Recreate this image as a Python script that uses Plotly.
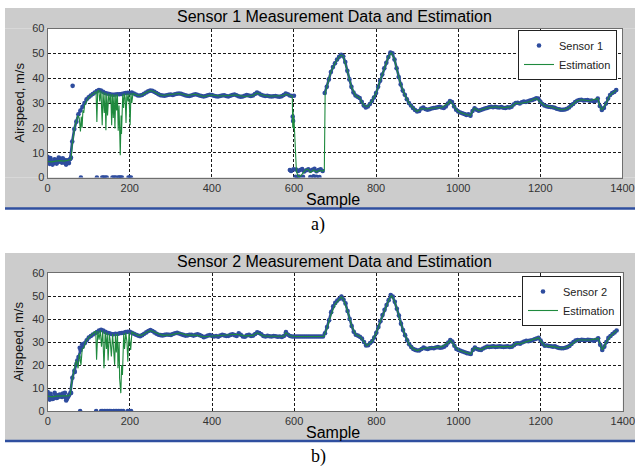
import plotly.graph_objects as go

# ---------------- data ----------------
STEP = 5
S1 = [
 8.3, 5.5, 6.4, 5.8, 7.0, 6.2, 7.6, 6.0, 7.1, 5.2, 6.8, 7.4, 14.5, 19.5, 22.5, 25.5, 27.0, 28.5, 30.0, 31.5,
 32.3, 33.0, 33.6, 34.2, 34.8, 35.2, 35.0, 34.5, 34.0, 33.8, 33.6, 33.4, 33.3, 33.4, 33.5, 33.5, 33.6, 33.8, 34.0, 34.1,
 34.0, 34.2, 33.8, 33.4, 33.0, 33.0, 33.2, 33.7, 34.2, 34.7, 35.0, 34.9, 34.5, 34.0, 33.5, 33.1, 33.0, 32.9, 33.1, 33.3,
 33.4, 33.2, 33.5, 33.7, 33.8, 33.7, 33.4, 33.1, 32.9, 32.8, 33.0, 33.3, 33.5, 33.3, 33.0, 32.8, 32.6, 32.8, 33.1, 33.3,
 33.2, 32.9, 32.7, 32.6, 32.8, 33.0, 33.1, 32.8, 32.6, 32.9, 33.2, 33.4, 33.1, 32.7, 32.5, 32.6, 32.9, 33.2, 33.0, 32.8,
 33.0, 33.6, 34.2, 33.8, 33.3, 33.0, 32.8, 32.9, 32.7, 32.6, 32.7, 32.8, 32.6, 32.5, 32.7, 33.2, 33.8, 33.5, 33.0, 32.8,
 32.9, 3.2, 2.6, 3.0, 3.4, 2.4, 2.9, 3.3, 2.7, 3.1, 3.5, 2.5, 3.0, 3.3, 2.6, 34.0, 36.5, 39.5, 42.5, 44.5,
 46.0, 47.5, 48.6, 49.4, 48.8, 46.5, 43.0, 39.5, 36.5, 34.2, 33.0, 32.5, 32.0, 30.5, 29.0, 28.2, 28.6, 29.6, 30.8, 32.2,
 34.0, 36.5, 39.0, 41.5, 44.0, 46.2, 48.5, 50.3, 50.0, 47.5, 44.0, 40.5, 37.5, 35.0, 33.3, 31.5, 30.0, 29.0, 28.0, 27.2,
 26.6, 26.8, 27.8, 28.2, 27.6, 27.3, 27.5, 27.8, 28.0, 28.1, 28.3, 28.5, 28.2, 28.0, 28.6, 29.8, 30.8, 30.4, 28.6, 27.3,
 26.6, 26.2, 25.9, 25.6, 25.2, 25.4, 24.9, 26.8, 27.9, 27.3, 26.9, 27.2, 27.5, 27.8, 28.0, 28.3, 28.5, 28.3, 28.5, 28.3,
 28.2, 28.4, 28.1, 28.0, 28.3, 28.2, 28.5, 29.4, 30.0, 30.1, 29.8, 30.3, 30.6, 30.4, 30.7, 31.0, 31.2, 31.5, 31.9, 31.8,
 30.6, 29.6, 29.0, 28.7, 28.5, 28.4, 28.3, 28.1, 27.7, 27.5, 27.3, 27.3, 27.4, 27.7, 28.2, 29.0, 29.6, 30.4, 30.9, 31.2,
 31.3, 31.0, 31.1, 31.2, 30.9, 31.0, 30.7, 30.9, 31.8, 28.8, 27.2, 28.0, 29.8, 31.8, 33.2, 34.0, 34.4, 35.2,
]
# sample numbers where sensor 1 jumps between separate regimes (start of a new run)
S1_RUN_STARTS = [605, 675]
# extra readings of sensor 1 (noise, outlier, drop-outs to zero, low band)
S1_EXTRA = [
 (2, 6.0), (7, 7.8), (12, 5.2), (17, 7.3), (22, 5.6), (27, 8.0), (32, 6.3), (37, 7.7), (42, 5.9),
 (47, 6.9), (52, 5.8), (57, 8.0), (61, 36.9),
 (81, 0), (120, 0), (133, 0), (136, 0), (140, 0), (144, 0), (158, 0), (162, 0), (166, 0),
 (172, 0), (175, 0), (178, 0), (181, 0), (197, 0), (200, 0), (203, 0),
 (590, 3.0), (593, 2.6), (597, 24.5), (598, 22.8), (599, 3.3),
 (604, 0.3), (608, 0.2), (612, 0.4), (622, 0.3), (640, 0.2), (648, 0.5), (655, 0.3), (662, 0.2),
]
EST1 = [
 (0, 6.5), (10, 6.3), (20, 6.6), (30, 6.8), (40, 6.6), (50, 6.8), (57, 7.2), (60, 13.0), (63, 18.0), (66, 20.5),
 (70, 22.5), (74, 25.0), (77, 24.0), (80, 18.5), (82, 24.5), (84, 20.0), (86, 27.0), (88, 26.0), (90, 29.0), (95, 31.0),
 (100, 32.3), (110, 33.6), (118, 34.6), (120, 22.4), (122, 34.8), (125, 35.0), (127, 30.6), (130, 35.0), (133, 21.0),
 (135, 34.5), (138, 26.0), (140, 34.2), (142, 19.0), (144, 33.8), (146, 25.0), (149, 33.8), (152, 30.0), (154, 33.6),
 (156, 21.0), (158, 33.5), (160, 24.0), (162, 33.4), (164, 19.7), (166, 33.4), (168, 27.0), (170, 33.5), (172, 18.8),
 (174, 29.0), (177, 9.0), (179, 25.0), (180, 17.5), (183, 33.5), (185, 28.0), (187, 33.8), (189, 32.0), (191, 22.0),
 (193, 33.8), (196, 30.6), (198, 33.8), (201, 21.0), (203, 34.0), (205, 30.0), (208, 33.8),
 (220, 33.0), (230, 33.2), (240, 34.2), (250, 35.0), (260, 34.5), (270, 33.5), (280, 33.0), (300, 33.4),
 (320, 33.8), (340, 33.0), (360, 33.5), (380, 32.6), (400, 33.2), (420, 32.8), (440, 32.9), (460, 33.2),
 (480, 32.6), (500, 33.0), (510, 34.0), (520, 33.3), (540, 32.7), (560, 32.7), (575, 33.0), (580, 33.6),
 (590, 33.0), (596, 32.8), (597, 20.0), (598, 27.0), (599, 19.5), (600, 24.0), (606, 2.5), (610, 0.5),
 (614, 0.2), (620, 1.5), (628, 3.0), (634, 3.4), (640, 2.0), (648, 3.0), (655, 2.2), (662, 3.0), (670, 2.5),
 (674, 3.0), (676, 33.8), (680, 36.5), (690, 42.5), (700, 46.0), (710, 48.6), (715, 49.3), (720, 48.8),
 (730, 43.0), (740, 36.5), (750, 33.0), (760, 32.0), (770, 29.0), (780, 28.6), (790, 30.8), (800, 34.0),
 (810, 39.0), (820, 44.0), (830, 48.5), (837, 50.2), (845, 47.5), (850, 44.0), (860, 37.5), (870, 33.3),
 (880, 30.0), (890, 28.0), (900, 26.6), (910, 27.8), (920, 27.6), (940, 28.0), (960, 28.2), (975, 29.8),
 (980, 30.8), (990, 28.6), (1000, 26.6), (1010, 25.9), (1030, 24.9), (1035, 26.8), (1040, 27.9), (1050, 26.9),
 (1070, 28.0), (1090, 28.5), (1110, 28.1), (1130, 28.5), (1140, 30.0), (1150, 29.8), (1170, 30.4), (1190, 31.9),
 (1200, 30.6), (1210, 29.0), (1230, 28.3), (1250, 27.3), (1260, 27.4), (1270, 28.2), (1290, 30.9), (1300, 31.3),
 (1320, 30.9), (1340, 31.8), (1345, 28.8), (1350, 27.2), (1360, 29.8), (1370, 33.2), (1385, 35.2),
]

S2 = [
 8.3, 5.0, 6.3, 5.6, 6.9, 6.0, 7.2, 6.1, 6.6, 4.6, 6.2, 7.8, 14.5, 17.5, 20.5, 23.5, 26.5, 28.0, 29.5, 30.8,
 32.0, 32.6, 33.3, 33.8, 34.3, 35.0, 35.3, 35.0, 34.4, 34.0, 33.8, 33.5, 33.4, 33.6, 33.5, 33.8, 33.9, 34.0, 34.3, 34.5,
 34.4, 34.0, 33.6, 33.2, 32.8, 32.5, 33.0, 33.6, 34.2, 34.8, 35.2, 34.8, 34.2, 33.6, 33.2, 33.0, 32.9, 33.1, 33.3, 33.2,
 33.1, 33.5, 33.8, 34.0, 33.7, 33.4, 33.1, 32.8, 32.9, 33.2, 33.1, 32.8, 33.1, 33.4, 33.0, 32.6, 32.1, 32.4, 32.8, 33.0,
 32.7, 32.4, 32.6, 32.3, 32.8, 33.2, 32.9, 32.6, 32.7, 33.1, 33.4, 33.0, 32.6, 33.8, 33.2, 32.4, 32.3, 32.9, 33.1, 32.6,
 32.8, 33.5, 34.2, 33.9, 33.4, 32.6, 32.4, 32.7, 32.5, 32.4, 32.6, 32.5, 32.3, 32.4, 32.2, 32.6, 34.3, 33.2, 32.6, 32.4,
 32.4, 32.4, 32.4, 32.4, 32.4, 32.4, 32.4, 32.4, 32.4, 32.4, 32.4, 32.4, 32.4, 32.4, 32.4, 33.8, 36.5, 39.5, 43.0, 45.5,
 47.0, 48.0, 48.8, 49.8, 48.5, 46.8, 43.5, 40.0, 37.0, 34.5, 33.2, 32.8, 32.3, 31.5, 30.0, 28.5, 28.6, 29.6, 30.4, 32.0,
 34.0, 36.5, 39.0, 41.7, 44.0, 46.1, 48.2, 50.4, 49.8, 47.5, 44.5, 41.5, 38.0, 35.2, 33.0, 30.8, 29.0, 27.8, 27.0, 26.6,
 26.3, 26.4, 27.0, 27.6, 27.2, 27.0, 27.3, 27.4, 27.3, 27.6, 27.8, 27.5, 27.6, 28.0, 28.6, 29.8, 30.9, 30.2, 28.4, 27.0,
 26.6, 26.2, 25.9, 25.6, 25.2, 25.0, 24.8, 26.6, 27.6, 27.0, 26.7, 26.6, 27.2, 27.6, 28.0, 27.9, 28.0, 28.1, 27.9, 28.0,
 28.1, 28.0, 27.9, 28.0, 28.1, 27.9, 28.0, 28.6, 29.3, 29.5, 29.3, 29.8, 30.2, 30.5, 30.4, 30.6, 30.8, 31.2, 31.5, 31.9,
 30.6, 29.2, 28.4, 28.5, 28.3, 28.2, 28.0, 28.1, 27.7, 27.4, 27.3, 27.3, 27.5, 27.8, 28.3, 29.2, 30.0, 30.6, 30.9, 30.8,
 31.0, 30.9, 30.8, 31.0, 30.9, 30.8, 30.6, 31.0, 31.6, 28.8, 26.6, 28.0, 30.0, 31.8, 32.6, 33.5, 34.2, 35.0,
]
S2_RUN_STARTS = []
S2_EXTRA = [
 (2, 5.8), (7, 7.5), (12, 5.3), (17, 7.9), (22, 5.7), (27, 7.0), (32, 6.4), (37, 7.6), (42, 8.0),
 (47, 5.4), (52, 7.0), (57, 7.9), (66, 17.0), (72, 22.0), (78, 27.5), (84, 29.0),
 (79, 0), (118, 0), (130, 0), (134, 0), (138, 0), (142, 0), (146, 0), (150, 0), (154, 0), (160, 0),
 (164, 0), (168, 0), (172, 0), (176, 0), (180, 0), (184, 0), (195, 0), (199, 0), (203, 0),
]
EST2 = [
 (0, 6.5), (10, 6.2), (20, 6.5), (30, 6.7), (40, 6.6), (50, 6.6), (55, 7.2), (58, 12.0), (62, 16.5), (66, 19.5),
 (70, 22.0), (74, 18.6), (77, 25.0), (81, 20.1), (84, 27.0), (88, 27.5), (92, 30.0), (100, 32.0), (110, 33.6),
 (117, 34.8), (119, 22.3), (122, 34.8), (125, 31.0), (128, 35.2), (131, 28.0), (134, 35.0), (137, 18.6),
 (140, 34.5), (143, 27.0), (145, 34.0), (147, 22.0), (150, 33.5), (152, 31.0), (155, 23.7), (158, 33.5),
 (160, 27.0), (163, 20.1), (165, 33.5), (167, 25.5), (170, 33.6), (171, 18.6), (174, 30.0), (175, 14.3),
 (178, 7.8), (180, 20.0), (182, 15.7), (185, 33.7), (187, 27.0), (190, 34.0), (193, 30.0), (195, 21.5),
 (198, 34.0), (200, 30.0), (202, 26.6), (205, 34.3),
 (220, 32.9), (230, 33.0), (240, 34.2), (250, 35.0), (260, 34.2), (270, 33.4), (280, 32.9), (300, 33.1),
 (320, 33.9), (340, 33.0), (360, 33.0), (380, 32.3), (400, 32.6), (420, 32.6), (440, 33.0), (460, 33.4),
 (480, 32.7), (500, 32.9), (510, 34.0), (525, 32.7), (540, 32.5), (560, 32.5), (575, 32.5), (580, 34.0),
 (590, 32.7), (600, 32.4), (672, 32.4), (680, 36.0), (690, 42.0), (700, 46.5), (710, 48.4), (715, 49.6),
 (720, 48.5), (730, 43.5), (740, 37.0), (750, 33.2), (760, 32.4), (770, 30.0), (777, 28.4), (790, 30.4),
 (800, 34.0), (810, 39.0), (820, 44.0), (830, 48.2), (837, 50.2), (845, 47.5), (850, 44.5), (860, 38.0),
 (870, 33.0), (880, 29.0), (890, 27.0), (900, 26.3), (910, 27.0), (920, 27.4), (940, 27.6), (960, 28.0),
 (975, 29.8), (980, 30.8), (990, 28.4), (1000, 26.6), (1010, 25.9), (1030, 24.8), (1035, 26.6), (1040, 27.6),
 (1055, 26.6), (1070, 28.0), (1090, 28.0), (1110, 28.0), (1130, 28.0), (1140, 29.3), (1150, 29.3), (1170, 30.4),
 (1195, 31.9), (1200, 30.6), (1210, 28.4), (1230, 28.0), (1250, 27.3), (1260, 27.5), (1270, 28.3), (1290, 30.9),
 (1300, 31.0), (1320, 30.9), (1340, 31.6), (1345, 28.8), (1350, 26.6), (1360, 30.0), (1370, 32.6), (1385, 35.0),
]

X_TICKS = [0, 200, 400, 600, 800, 1000, 1200, 1400]
Y_TICKS = [0, 10, 20, 30, 40, 50, 60]
TITLES = ["Sensor 1 Measurement Data and Estimation", "Sensor 2 Measurement Data and Estimation"]
SENSOR_NAMES = ["Sensor 1", "Sensor 2"]
CAPTIONS = ["a)", "b)"]

# ---------------- layout geometry (pixels) ----------------
W, H = 635, 468
BLUE = "#2e4c9e"
GREEN = "#1f8a3e"
GRAY = "#cccccc"
FONT = "Arial, Liberation Sans, sans-serif"

# panel: (plot left, right, top, bottom, gray top, blue line y)
PANELS = [
    (47.6, 622.4, 28.5, 177.5, 8, 208.5),
    (47.7, 622.8, 273.0, 411.1, 253, 441.0),
]


def px(x):
    return x / W


def py(y):
    return 1 - y / H


fig = go.Figure()

sensors = [(S1, S1_RUN_STARTS, S1_EXTRA, EST1), (S2, S2_RUN_STARTS, S2_EXTRA, EST2)]
for i, (vals, starts, extra, est) in enumerate(sensors):
    xa = "x" if i == 0 else "x2"
    ya = "y" if i == 0 else "y2"
    leg = "legend" if i == 0 else "legend2"
    samples = [k * STEP for k in range(len(vals))]
    mk = dict(symbol="circle", size=4.6, color=BLUE, line=dict(width=0))
    # dense readings drawn as a thick band: one connected run per regime
    bounds = [0] + [samples.index(s) for s in starts] + [len(vals)]
    for a, z in zip(bounds[:-1], bounds[1:]):
        fig.add_trace(go.Scatter(x=samples[a:z], y=vals[a:z], mode="lines",
                                 line=dict(color=BLUE, width=2.6), showlegend=False,
                                 hoverinfo="skip", xaxis=xa, yaxis=ya))
    fig.add_trace(go.Scatter(x=samples, y=vals, mode="markers", marker=mk, name=SENSOR_NAMES[i],
                             xaxis=xa, yaxis=ya, legend=leg, legendgroup=f"s{i}"))
    fig.add_trace(go.Scatter(x=[p[0] for p in extra], y=[p[1] for p in extra], mode="markers",
                             marker=mk, showlegend=False, xaxis=xa, yaxis=ya, legendgroup=f"s{i}"))
    fig.add_trace(go.Scatter(x=[p[0] for p in est], y=[p[1] for p in est], mode="lines",
                             line=dict(color=GREEN, width=1.1), name="Estimation",
                             xaxis=xa, yaxis=ya, legend=leg))

shapes = []
annotations = []
for i, (l, r, t, b, gt, by) in enumerate(PANELS):
    # gray frame around the white plot area
    for (x0, x1, y0, y1) in [(5, W, gt, t), (5, W, b, by), (5, l, t, b), (r, W, t, b)]:
        shapes.append(dict(type="rect", xref="paper", yref="paper", x0=px(x0), x1=px(x1),
                           y0=py(y1), y1=py(y0), fillcolor=GRAY, line=dict(width=0), layer="below"))
    shapes.append(dict(type="line", xref="paper", yref="paper", x0=px(5), x1=px(W),
                       y0=py(by), y1=py(by), line=dict(color="#2f4f9f", width=2.5)))
    cx = (l + r) / 2
    annotations.append(dict(text=TITLES[i], xref="paper", yref="paper", x=px(cx - 1),
                            y=py(gt + 8.5), showarrow=False, xanchor="center", yanchor="middle",
                            font=dict(family=FONT, size=16, color="#000000")))
    annotations.append(dict(text="Sample", xref="paper", yref="paper", x=px(cx - 2),
                            y=py(by - 9), showarrow=False, xanchor="center", yanchor="middle",
                            font=dict(family=FONT, size=16, color="#000000")))
    annotations.append(dict(text="Airspeed, m/s", xref="paper", yref="paper", x=px(18.5),
                            y=py((t + b) / 2), showarrow=False, textangle=-90,
                            xanchor="center", yanchor="middle",
                            font=dict(family=FONT, size=13, color="#111111")))
    annotations.append(dict(text=CAPTIONS[i], xref="paper", yref="paper", x=px(318),
                            y=py(by + 15.5), showarrow=False, xanchor="center", yanchor="middle",
                            font=dict(family="Liberation Serif, Times New Roman, serif", size=18,
                                      color="#000000")))

axis_common = dict(showgrid=True, gridcolor="#1a1a1a", gridwidth=1, griddash="3px,2px",
                   showline=True, mirror=True, linecolor="#6e6e6e", linewidth=1,
                   ticks="", zeroline=False, automargin=False, fixedrange=True,
                   ticklabeloverflow="allow",
                   tickfont=dict(family=FONT, size=11, color="#333333"))

l, r, t, b, gt, by = PANELS[0]
l2, r2, t2, b2, gt2, by2 = PANELS[1]
legend_common = dict(xanchor="right", yanchor="top", bgcolor="white",
                     bordercolor="#222222", borderwidth=1,
                     font=dict(family=FONT, size=11, color="#222"),
                     tracegroupgap=0, itemwidth=30)
fig.update_layout(
    width=W, height=H, template="none",
    margin=dict(l=0, r=0, t=0, b=0),
    paper_bgcolor="white", plot_bgcolor="white",
    showlegend=True,
    xaxis=dict(domain=[px(l), px(r)], range=[0, 1400], tickvals=X_TICKS, anchor="y", **axis_common),
    yaxis=dict(domain=[py(b), py(t)], range=[0, 60], tickvals=Y_TICKS, anchor="x", **axis_common),
    xaxis2=dict(domain=[px(l2), px(r2)], range=[0, 1400], tickvals=X_TICKS, anchor="y2", **axis_common),
    yaxis2=dict(domain=[py(b2), py(t2)], range=[0, 60], tickvals=Y_TICKS, anchor="x2", **axis_common),
    legend=dict(x=px(617), y=py(30), **legend_common),
    legend2=dict(x=px(621), y=py(276), **legend_common),
    shapes=shapes, annotations=annotations,
)

fig.write_html("out.html", config={"displayModeBar": False},
               post_script="document.body.style.margin='0px';")
